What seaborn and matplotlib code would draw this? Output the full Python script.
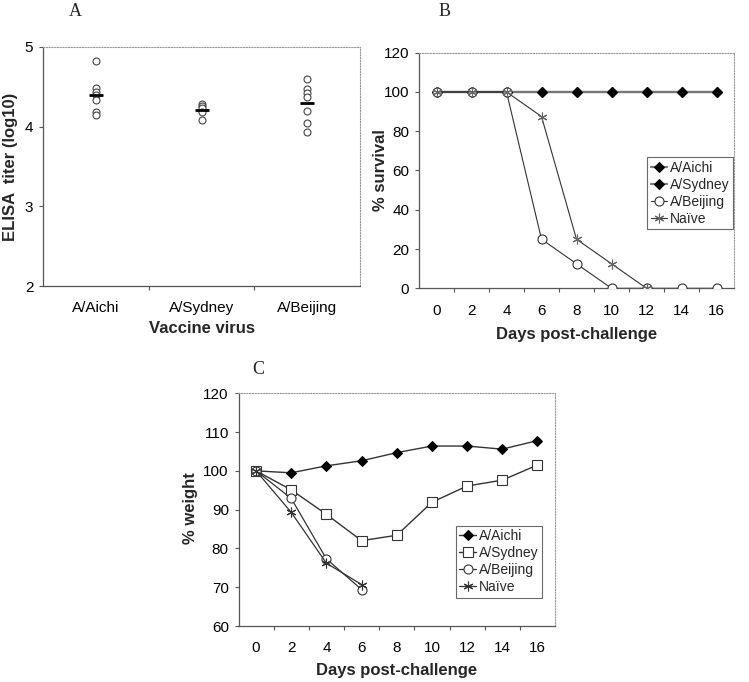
import matplotlib
matplotlib.use("Agg")
import matplotlib.pyplot as plt
import seaborn as sns
import pandas as pd
import numpy as np
from matplotlib.ticker import MultipleLocator, FixedLocator

sns.set_theme(style="white")
plt.rcParams['font.family'] = ['Liberation Sans', 'DejaVu Sans']

# ---------------- Data ----------------
# Panel A: ELISA titers (log10)
vaccines = ["A/Aichi", "A/Sydney", "A/Beijing"]
aichi_titers = [4.83, 4.48, 4.44, 4.40, 4.33, 4.18, 4.15]
sydney_titers = [4.29, 4.26, 4.23, 4.19, 4.08]
beijing_titers = [4.60, 4.47, 4.42, 4.37, 4.20, 4.04, 3.93]
mean_titers = [4.40, 4.21, 4.30]

# Panel B: % survival
days = [0, 2, 4, 6, 8, 10, 12, 14, 16]
surv_aichi = [100, 100, 100, 100, 100, 100, 100, 100, 100]
surv_sydney = [100, 100, 100, 100, 100, 100, 100, 100, 100]
surv_beijing = [100, 100, 100, 25, 12.5, 0, 0, 0, 0]
surv_naive = [100, 100, 100, 87.5, 25, 12.5, 0]

# Panel C: % weight
wt_aichi = [100, 99.5, 101.3, 102.6, 104.7, 106.4, 106.4, 105.6, 107.8]
wt_sydney = [100, 95.1, 88.8, 82.0, 83.4, 91.9, 96.1, 97.6, 101.5]
wt_beijing = [100, 92.9, 77.3, 69.4]
wt_naive = [100, 89.3, 76.2, 70.7]

W, H = 749, 682
fig = plt.figure(figsize=(W / 100, H / 100), dpi=100)
fig.patch.set_facecolor("white")


def box(l, r, t, b):
    return [l / W, (H - b) / H, (r - l) / W, (b - t) / H]


def style_axes(ax):
    ax.set_facecolor("white")
    for s in ["left", "bottom"]:
        ax.spines[s].set_color("#555555")
        ax.spines[s].set_linewidth(0.9)
    for s in ["top", "right"]:
        ax.spines[s].set_color("#999999")
        ax.spines[s].set_linewidth(0.8)
        ax.spines[s].set_linestyle((0, (1, 1.5)))
    ax.tick_params(axis="both", which="both", direction="out", colors="#555555",
                   labelcolor="black", labelsize=11, width=0.8)
    ax.tick_params(axis="y", which="major", length=3, left=True, pad=4)
    ax.grid(False)


label_kw = dict(fontsize=12, fontweight="bold")
leg_kw = dict(fontsize=10, frameon=True, fancybox=False, edgecolor="#444444",
              handlelength=1.2, handletextpad=0.2, labelspacing=0.22,
              borderpad=0.25, borderaxespad=0)

# ---------------- Panel A ----------------
axA = fig.add_axes(box(43, 360, 47, 286))
dfA = pd.DataFrame({
    "virus": [vaccines[0]] * len(aichi_titers) + [vaccines[1]] * len(sydney_titers)
             + [vaccines[2]] * len(beijing_titers),
    "titer": aichi_titers + sydney_titers + beijing_titers,
})
sns.stripplot(data=dfA, x="virus", y="titer", order=vaccines, jitter=False,
              marker="o", size=5, color="white", edgecolor="#444444",
              linewidth=0.8, ax=axA, zorder=3)
dfM = pd.DataFrame({"virus": vaccines, "titer": mean_titers})
sns.stripplot(data=dfM, x="virus", y="titer", order=vaccines, jitter=False,
              marker="_", size=10, color="black", linewidth=2.0, ax=axA, zorder=4)
axA.set_xlim(-0.5, 2.5)
axA.set_ylim(2, 5)
axA.yaxis.set_major_locator(MultipleLocator(1))
style_axes(axA)
axA.xaxis.set_minor_locator(FixedLocator([0.5, 1.5]))
axA.tick_params(axis="x", which="major", length=0, pad=11)
axA.tick_params(axis="x", which="minor", length=3, bottom=True)
axA.set_xlabel("Vaccine virus", **label_kw)
axA.set_ylabel("ELISA  titer (log10)", **label_kw)
axA.xaxis.set_label_coords(0.5, -0.146)
axA.yaxis.set_label_coords(-0.079, 0.5)

# ---------------- Panel B ----------------
axB = fig.add_axes(box(419, 734, 52.7, 288.3))
ms = 5
sns.lineplot(x=days, y=surv_aichi, ax=axB, color="#777777", lw=1.6, marker="D",
             markersize=ms, markerfacecolor="black", markeredgecolor="black",
             label="A/Aichi", zorder=3)
sns.lineplot(x=days, y=surv_sydney, ax=axB, color="#777777", lw=1.6, marker="D",
             markersize=ms, markerfacecolor="black", markeredgecolor="black",
             label="A/Sydney", zorder=3)
sns.lineplot(x=days, y=surv_beijing, ax=axB, color="#333333", lw=0.8, marker="o",
             markersize=ms + 1.5, markerfacecolor="white", markeredgecolor="#333333",
             markeredgewidth=0.8, label="A/Beijing", zorder=4)
sns.lineplot(x=days[:len(surv_naive)], y=surv_naive, ax=axB, color="#333333", lw=0.8,
             marker=(6, 2, 0), markersize=ms + 2, markeredgecolor="#666666",
             markeredgewidth=0.8, label="Naïve", zorder=5)
axB.set_xlim(-1, 17)
axB.set_ylim(0, 120)
axB.yaxis.set_major_locator(MultipleLocator(20))
style_axes(axB)
axB.xaxis.set_major_locator(FixedLocator(days))
axB.xaxis.set_minor_locator(FixedLocator(list(range(1, 17, 2))))
axB.tick_params(axis="x", which="major", length=0, pad=11)
axB.tick_params(axis="x", which="minor", length=3, bottom=True)
axB.set_xlabel("Days post-challenge", **label_kw)
axB.set_ylabel("% survival", **label_kw)
axB.xaxis.set_label_coords(0.5, -0.165)
axB.yaxis.set_label_coords(-0.098, 0.5)
legB = axB.legend(loc="upper right", bbox_to_anchor=(0.998, 0.557), **leg_kw)
legB.get_frame().set_linewidth(0.8)

# ---------------- Panel C ----------------
axC = fig.add_axes(box(238.5, 555, 393.3, 626))
sns.lineplot(x=days, y=wt_aichi, ax=axC, color="#333333", lw=1.0, marker="D",
             markersize=ms, markerfacecolor="black", markeredgecolor="black",
             label="A/Aichi", zorder=3)
sns.lineplot(x=days, y=wt_sydney, ax=axC, color="#333333", lw=1.0, marker="s",
             markersize=ms + 1.5, markerfacecolor="white", markeredgecolor="#333333",
             markeredgewidth=0.8, label="A/Sydney", zorder=3)
sns.lineplot(x=days[:len(wt_beijing)], y=wt_beijing, ax=axC, color="#333333", lw=0.9,
             marker="o", markersize=ms + 1.5, markerfacecolor="white",
             markeredgecolor="#333333", markeredgewidth=0.8, label="A/Beijing", zorder=4)
sns.lineplot(x=days[:len(wt_naive)], y=wt_naive, ax=axC, color="#333333", lw=0.9,
             marker=(6, 2, 0), markersize=ms + 2, markeredgecolor="#333333",
             markeredgewidth=0.8, label="Naïve", zorder=5)
axC.set_xlim(-1, 17)
axC.set_ylim(60, 120)
axC.yaxis.set_major_locator(MultipleLocator(10))
style_axes(axC)
axC.xaxis.set_major_locator(FixedLocator(days))
axC.xaxis.set_minor_locator(FixedLocator(list(range(1, 17, 2))))
axC.tick_params(axis="x", which="major", length=0, pad=11)
axC.tick_params(axis="x", which="minor", length=3, bottom=True)
axC.set_xlabel("Days post-challenge", **label_kw)
axC.set_ylabel("% weight", **label_kw)
axC.xaxis.set_label_coords(0.5, -0.158)
axC.yaxis.set_label_coords(-0.128, 0.507)
legC = axC.legend(loc="upper right", bbox_to_anchor=(0.959, 0.431), **leg_kw)
legC.get_frame().set_linewidth(0.8)

# Panel letters
for txt, x, y in [("A", 75, 12), ("B", 445, 12), ("C", 258, 370)]:
    fig.text(x / W, 1 - y / H, txt, fontsize=13, family=["Liberation Serif"],
             ha="center", va="center")

fig.savefig("out.png", dpi=100, facecolor="white")
